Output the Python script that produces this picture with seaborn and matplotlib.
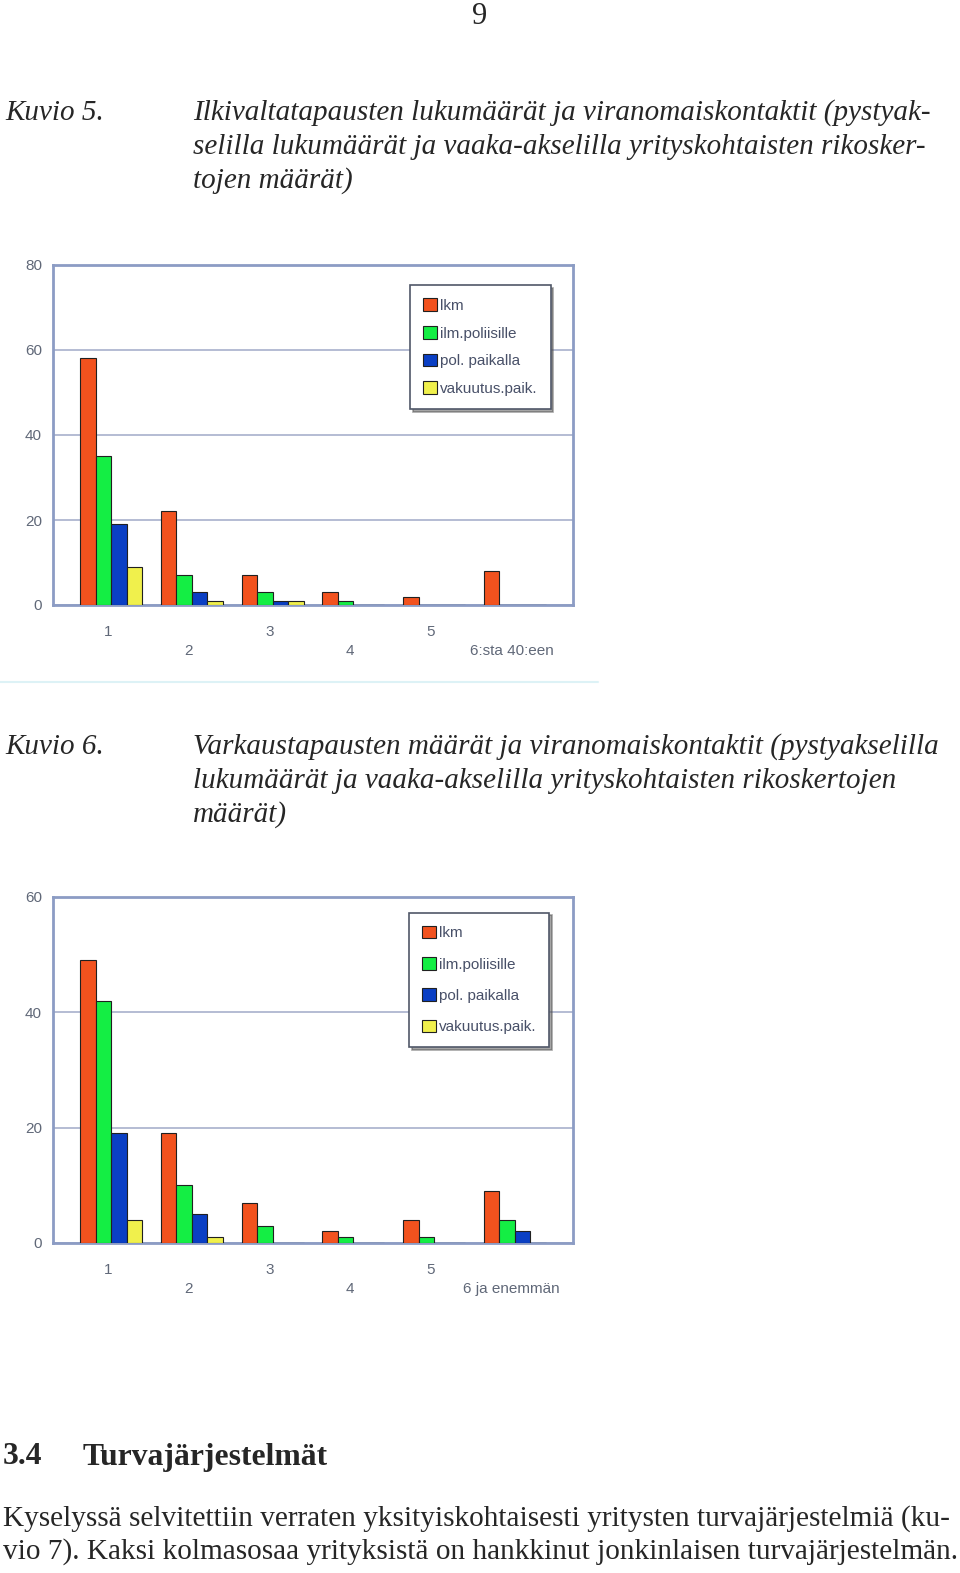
"""Kuvio 5 ja 6: rikostapausten lukumäärät ja viranomaiskontaktit."""
import matplotlib
matplotlib.use("Agg")
import matplotlib.pyplot as plt
import numpy as np
import pandas as pd
import seaborn as sns

SERIES = ["lkm", "ilm.poliisille", "pol. paikalla", "vakuutus.paik."]
COLORS = ["#F2521E", "#14EE44", "#0A3FC4", "#F0F04C"]

CATS_5 = ["1", "2", "3", "4", "5", "6:sta 40:een"]
LKM_5 = [58, 22, 7, 3, 2, 8]
ILM_5 = [35, 7, 3, 1, 0, 0]
POL_5 = [19, 3, 1, 0, 0, 0]
VAK_5 = [9, 1, 1, 0, 0, 0]

CATS_6 = ["1", "2", "3", "4", "5", "6 ja enemmän"]
LKM_6 = [49, 19, 7, 2, 4, 9]
ILM_6 = [42, 10, 3, 1, 1, 4]
POL_6 = [19, 5, 0, 0, 0, 2]
VAK_6 = [4, 1, 0, 0, 0, 0]

W, H = 960, 1573
SERIF = ["Liberation Serif", "DejaVu Serif"]
SANS = ["Liberation Sans", "DejaVu Sans"]
FRAME = "#8C9CC4"
GRID = "#A8B0CC"
TICK = "#606878"


def long_df(cats, *cols):
    rows = []
    for name, vals in zip(SERIES, cols):
        for c, v in zip(cats, vals):
            rows.append({"cat": c, "series": name, "value": v})
    return pd.DataFrame(rows)


def px_axes(fig, left, top, right, bottom):
    return fig.add_axes([left / W, 1 - bottom / H, (right - left) / W, (bottom - top) / H])


def draw_chart(ax, df, cats, ymax, yticks, legend_box, spacing):
    sns.barplot(data=df, x="cat", y="value", hue="series", order=cats,
                hue_order=SERIES, palette=COLORS, saturation=1, width=0.77,
                edgecolor="#202020", linewidth=0.8, ax=ax, legend=True, zorder=3)
    ax.set_ylim(0, ymax)
    ax.set_xlim(-0.72, 5.72)
    ax.set_yticks(yticks)
    ax.set_yticklabels([str(t) for t in yticks], fontsize=11, color=TICK, family=SANS)
    ax.yaxis.grid(True, color=GRID, linewidth=1.2, zorder=0)
    ax.set_axisbelow(True)
    ax.tick_params(axis="y", length=0, pad=8)
    ax.tick_params(axis="x", length=0, pad=14)
    ax.set_xticks(range(len(cats)))
    ax.set_xticklabels([""] * len(cats))
    for i, c in enumerate(cats):
        y = -0.078 if i % 2 == 0 else -0.134
        ax.text(i - 0.04, y, c, transform=ax.get_xaxis_transform(), ha="center",
                va="center", fontsize=11, color=TICK, family=SANS)
    ax.set_xlabel("")
    ax.set_ylabel("")
    for s in ax.spines.values():
        s.set_color(FRAME)
        s.set_linewidth(2)
    leg = ax.legend(loc="upper left", bbox_to_anchor=legend_box, frameon=True,
                    fancybox=False, shadow=True, fontsize=11, labelspacing=spacing,
                    handlelength=0.9, handleheight=0.9, handletextpad=0.2,
                    borderpad=0.85, borderaxespad=0)
    leg.get_frame().set_edgecolor("#505868")
    leg.get_frame().set_linewidth(1.2)
    for t in leg.get_texts():
        t.set_color("#485068")
        t.set_family(SANS)


sns.set_style("white")
fig = plt.figure(figsize=(W / 100, H / 100), dpi=100)
fig.patch.set_facecolor("white")

fig.text(480 / W, 1 - 16 / H, "9", ha="center", va="center", fontsize=22, family=SERIF)

cap5 = ["Ilkivaltatapausten lukumäärät ja viranomaiskontaktit (pystyak-",
        "selilla lukumäärät ja vaaka-akselilla yrityskohtaisten rikosker-",
        "tojen määrät)"]
fig.text(5 / W, 1 - 113 / H, "Kuvio 5.", ha="left", va="center", fontsize=21,
         family=SERIF, style="italic")
for i, line in enumerate(cap5):
    fig.text(193 / W, 1 - (113 + 34 * i) / H, line, ha="left", va="center",
             fontsize=21, family=SERIF, style="italic")

cap6 = ["Varkaustapausten määrät ja viranomaiskontaktit (pystyakselilla",
        "lukumäärät ja vaaka-akselilla yrityskohtaisten rikoskertojen",
        "määrät)"]
fig.text(5 / W, 1 - 747 / H, "Kuvio 6.", ha="left", va="center", fontsize=21,
         family=SERIF, style="italic")
for i, line in enumerate(cap6):
    fig.text(193 / W, 1 - (747 + 34 * i) / H, line, ha="left", va="center",
             fontsize=21, family=SERIF, style="italic")

ax1 = px_axes(fig, 53, 265, 573, 605)
draw_chart(ax1, long_df(CATS_5, LKM_5, ILM_5, POL_5, VAK_5), CATS_5, 80,
           [0, 20, 40, 60, 80], (0.687, 0.94), 0.85)

fig.add_artist(plt.Line2D([0, 598 / W], [1 - 682 / H, 1 - 682 / H],
                          color="#DDF2F6", linewidth=1.5))

ax2 = px_axes(fig, 53, 897, 573, 1243)
draw_chart(ax2, long_df(CATS_6, LKM_6, ILM_6, POL_6, VAK_6), CATS_6, 60,
           [0, 20, 40, 60], (0.685, 0.955), 1.1)

fig.text(3 / W, 1 - 1457 / H, "3.4", ha="left", va="center", fontsize=22.8,
         family=SERIF, weight="bold")
fig.text(83 / W, 1 - 1457 / H, "Turvajärjestelmät", ha="left", va="center",
         fontsize=22.8, family=SERIF, weight="bold")
fig.text(3 / W, 1 - 1519 / H,
         "Kyselyssä selvitettiin verraten yksityiskohtaisesti yritysten turvajärjestelmiä (ku-",
         ha="left", va="center", fontsize=21.1, family=SERIF)
fig.text(3 / W, 1 - 1552 / H,
         "vio 7). Kaksi kolmasosaa yrityksistä on hankkinut jonkinlaisen turvajärjestelmän.",
         ha="left", va="center", fontsize=21.1, family=SERIF)

fig.savefig("out.png", dpi=100)
